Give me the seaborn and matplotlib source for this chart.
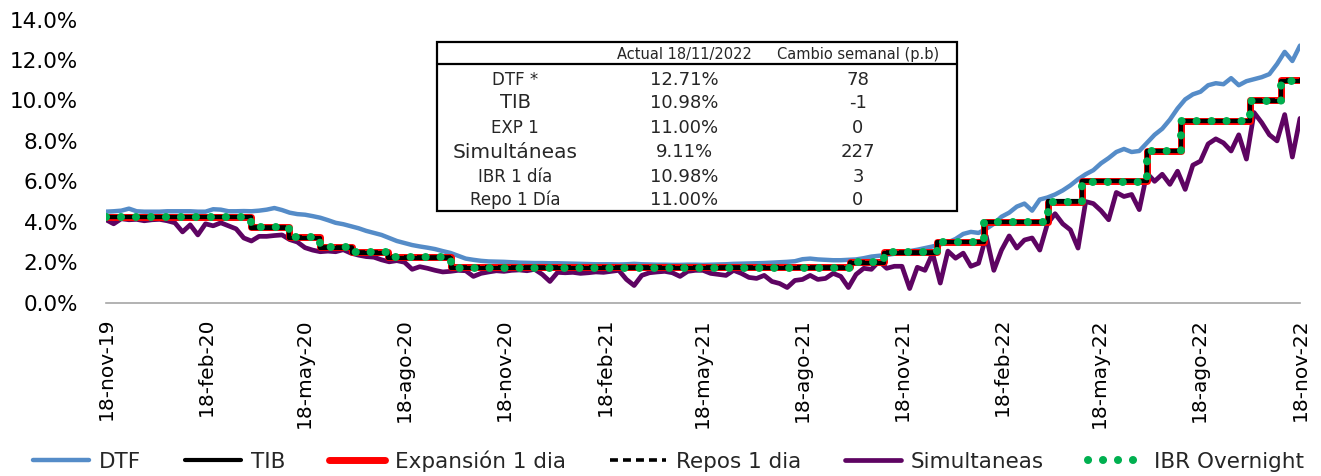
import numpy as np
import pandas as pd
import matplotlib
matplotlib.use("Agg")
import matplotlib.pyplot as plt
import seaborn as sns
from matplotlib.patches import Rectangle
from matplotlib.lines import Line2D

# ---------------- data ----------------
start_date = "2019-11-18"
end_date = "2022-11-18"

dtf_values = [
    4.50, 4.52, 4.55, 4.65, 4.52, 4.50, 4.50, 4.50, 4.52, 4.52, 4.52, 4.52, 4.50,
    4.50, 4.62, 4.60, 4.52, 4.52, 4.53, 4.52, 4.55, 4.60, 4.68, 4.58, 4.45, 4.38,
    4.35, 4.28, 4.20, 4.08, 3.95, 3.88, 3.78, 3.68, 3.55, 3.45, 3.35, 3.20, 3.05,
    2.95, 2.85, 2.78, 2.72, 2.65, 2.55, 2.46, 2.32, 2.18, 2.12, 2.07, 2.04, 2.03,
    2.02, 2.00, 1.98, 1.97, 1.96, 1.96, 1.95, 1.95, 1.94, 1.93, 1.92, 1.91, 1.90,
    1.90, 1.90, 1.89, 1.90, 1.92, 1.90, 1.89, 1.88, 1.88, 1.87, 1.87, 1.88, 1.88,
    1.87, 1.88, 1.89, 1.90, 1.92, 1.93, 1.94, 1.95, 1.96, 1.98, 2.00, 2.02, 2.05,
    2.15, 2.18, 2.14, 2.12, 2.10, 2.10, 2.12, 2.14, 2.20, 2.28, 2.32, 2.36, 2.42,
    2.48, 2.55, 2.62, 2.70, 2.78, 2.88, 2.98, 3.15, 3.40, 3.50, 3.45, 3.65, 3.90,
    4.25, 4.45, 4.75, 4.90, 4.55, 5.10, 5.20, 5.35, 5.55, 5.80, 6.10, 6.35, 6.55,
    6.89, 7.15, 7.45, 7.60, 7.45, 7.50, 7.90, 8.30, 8.60, 9.05, 9.60, 10.05, 10.30,
    10.43, 10.75, 10.85, 10.80, 11.10, 10.75, 10.95, 11.05, 11.15, 11.30, 11.80, 12.40, 11.95,
    12.71,
]

simultaneas_values = [
    4.10, 3.90, 4.15, 4.10, 4.12, 4.05, 4.10, 4.12, 4.05, 3.95, 3.50, 3.85, 3.35,
    3.90, 3.80, 3.95, 3.80, 3.65, 3.20, 3.05, 3.28, 3.28, 3.32, 3.35, 3.12, 3.00,
    2.72, 2.60, 2.52, 2.55, 2.52, 2.62, 2.45, 2.35, 2.28, 2.25, 2.12, 2.02, 2.08,
    2.00, 1.65, 1.78, 1.70, 1.60, 1.52, 1.55, 1.60, 1.58, 1.30, 1.45, 1.52, 1.58,
    1.55, 1.60, 1.62, 1.58, 1.65, 1.40, 1.05, 1.50, 1.48, 1.50, 1.45, 1.48, 1.52,
    1.50, 1.55, 1.60, 1.15, 0.85, 1.35, 1.48, 1.52, 1.55, 1.48, 1.30, 1.55, 1.60,
    1.60, 1.45, 1.40, 1.35, 1.60, 1.45, 1.25, 1.20, 1.35, 1.05, 0.95, 0.75, 1.10,
    1.15, 1.35, 1.15, 1.20, 1.45, 1.30, 0.75, 1.40, 1.70, 1.65, 2.05, 1.70, 1.80,
    1.80, 0.70, 1.75, 1.60, 2.44, 0.97, 2.55, 2.20, 2.45, 1.80, 1.95, 3.30, 1.60,
    2.60, 3.30, 2.70, 3.10, 3.20, 2.60, 3.90, 4.40, 3.90, 3.60, 2.70, 5.00, 4.90,
    4.55, 4.10, 5.45, 5.25, 5.35, 4.60, 6.40, 6.00, 6.35, 5.85, 6.50, 5.60, 6.80,
    7.00, 7.85, 8.10, 7.90, 7.50, 8.30, 7.10, 9.40, 8.90, 8.30, 8.00, 9.30, 7.20,
    9.11,
]

step_dates = ["2019-11-18", "2020-03-30", "2020-05-04", "2020-06-01", "2020-07-01",
              "2020-08-03", "2020-09-30", "2021-10-01", "2021-11-01", "2021-12-20",
              "2022-02-01", "2022-04-01", "2022-05-02", "2022-07-01", "2022-08-01",
              "2022-10-03", "2022-11-01", "2022-11-18"]
expansion_values = [4.25, 3.75, 3.25, 2.75, 2.50, 2.25, 1.75, 2.00, 2.50, 3.00,
                    4.00, 5.00, 6.00, 7.50, 9.00, 10.00, 11.00, 11.00]
repos_values = [4.25, 3.75, 3.25, 2.75, 2.50, 2.25, 1.75, 2.00, 2.50, 3.00,
                4.00, 5.00, 6.00, 7.50, 9.00, 10.00, 11.00, 11.00]
tib_values = [4.23, 3.68, 3.22, 2.72, 2.47, 2.22, 1.73, 1.98, 2.48, 2.98,
              3.98, 5.02, 6.04, 7.48, 8.98, 9.98, 10.98, 10.98]
ibr_values = [4.24, 3.74, 3.24, 2.74, 2.49, 2.24, 1.74, 1.99, 2.49, 2.99,
              3.99, 4.99, 5.99, 7.49, 8.99, 9.99, 10.98, 10.98]

tick_dates = ["2019-11-18", "2020-02-18", "2020-05-18", "2020-08-18", "2020-11-18",
              "2021-02-18", "2021-05-18", "2021-08-18", "2021-11-18", "2022-02-18",
              "2022-05-18", "2022-08-18", "2022-11-18"]
tick_labels = ["18-nov-19", "18-feb-20", "18-may-20", "18-ago-20", "18-nov-20",
               "18-feb-21", "18-may-21", "18-ago-21", "18-nov-21", "18-feb-22",
               "18-may-22", "18-ago-22", "18-nov-22"]
y_ticks = [0, 2, 4, 6, 8, 10, 12, 14]

table_header = ["Actual 18/11/2022", "Cambio semanal (p.b)"]
table_labels = ["DTF *", "TIB", "EXP 1", "Simultáneas", "IBR 1 día", "Repo 1 Día"]
table_actual = ["12.71%", "10.98%", "11.00%", "9.11%", "10.98%", "11.00%"]
table_change = ["78", "-1", "0", "227", "3", "0"]

# ---------------- frames ----------------
daily = pd.DataFrame({
    "fecha": pd.date_range(start_date, end_date, periods=len(dtf_values)),
    "DTF": dtf_values,
    "Simultaneas": simultaneas_values,
})
steps = pd.DataFrame({
    "fecha": pd.to_datetime(step_dates),
    "TIB": tib_values,
    "Expansion": expansion_values,
    "Repos": repos_values,
    "IBR": ibr_values,
})

# ---------------- figure ----------------
sns.set_theme(style="white")
plt.rcParams["font.family"] = ["DejaVu Sans"]

W, H = 1321, 476
fig = plt.figure(figsize=(W / 100, H / 100), dpi=100)
ax = fig.add_axes([106 / W, (H - 302.7) / H, 1194 / W, (302.7 - 19.5) / H])

c_dtf = "#558CC8"
c_sim = "#5E0462"
c_red = "#FF0000"
c_green = "#00B050"

sns.lineplot(data=daily, x="fecha", y="DTF", ax=ax, color=c_dtf, lw=3.2,
             label="DTF", zorder=2)
sns.lineplot(data=steps, x="fecha", y="TIB", ax=ax, color="black", lw=3.0,
             label="TIB", drawstyle="steps-post", zorder=5)
sns.lineplot(data=steps, x="fecha", y="Expansion", ax=ax, color=c_red, lw=5.0,
             label="Expansión 1 dia", drawstyle="steps-post", zorder=4)
sns.lineplot(data=steps, x="fecha", y="Repos", ax=ax, color="black", lw=2.6,
             label="Repos 1 dia", drawstyle="steps-post", zorder=6,
             linestyle=(0, (2.2, 1.4)))
sns.lineplot(data=daily, x="fecha", y="Simultaneas", ax=ax, color=c_sim, lw=3.4,
             label="Simultaneas", zorder=3)
sns.lineplot(data=steps, x="fecha", y="IBR", ax=ax, color=c_green, lw=5.8,
             label="IBR Overnight", drawstyle="steps-post", zorder=7,
             linestyle=(0, (0.01, 1.85)), dash_capstyle="round")

ax.set_xlim(pd.Timestamp(start_date), pd.Timestamp(end_date))
ax.set_ylim(0, 14)
ax.set_yticks(y_ticks)
ax.set_yticklabels([f"{v:.1f}%" for v in y_ticks])
ax.set_xticks(pd.to_datetime(tick_dates))
ax.set_xticklabels(tick_labels, rotation=90)
ax.set_xlabel("")
ax.set_ylabel("")
ax.grid(False)
for s in ["top", "right", "left"]:
    ax.spines[s].set_visible(False)
ax.spines["bottom"].set_color("#A6A6A6")
ax.spines["bottom"].set_linewidth(1.2)
ax.tick_params(axis="y", length=0, pad=20, labelsize=15.5, labelcolor="black")
ax.tick_params(axis="x", length=0, pad=11, labelsize=14.5, labelcolor="black")

handles, labels = ax.get_legend_handles_labels()
if ax.get_legend() is not None:
    ax.get_legend().remove()
leg = fig.legend(handles, labels, loc="center", bbox_to_anchor=(0.506, 0.032), ncol=6,
                 frameon=False, fontsize=15.5, handlelength=2.6, handletextpad=0.45,
                 columnspacing=2.05)

# ---------------- table ----------------
def fx(x):
    return x / W


def fy(y):
    return 1 - y / H

box_l, box_r, box_t, box_b = 437, 957, 42, 211
fig.add_artist(Rectangle((fx(box_l), fy(box_b)), fx(box_r - box_l), (box_b - box_t) / H,
                         transform=fig.transFigure, facecolor="white",
                         edgecolor="black", lw=1.6, zorder=10))
fig.add_artist(Line2D([fx(box_l), fx(box_r)], [fy(64), fy(64)],
                      transform=fig.transFigure, color="black", lw=1.6, zorder=11))

col_x = [515, 684, 858]
header_y = 54
fig.text(fx(col_x[1]), fy(header_y), table_header[0], ha="center", va="center",
         fontsize=10.5, zorder=12)
fig.text(fx(col_x[2]), fy(header_y), table_header[1], ha="center", va="center",
         fontsize=10.5, zorder=12)
row_y = [80, 103, 128, 152, 177, 200]
label_sizes = [12, 14, 12, 14.5, 12, 12]
for lab, act, chg, yy, fs in zip(table_labels, table_actual, table_change, row_y, label_sizes):
    fig.text(fx(col_x[0]), fy(yy), lab, ha="center", va="center", fontsize=fs, zorder=12)
    fig.text(fx(col_x[1]), fy(yy), act, ha="center", va="center", fontsize=13, zorder=12)
    fig.text(fx(col_x[2]), fy(yy), chg, ha="center", va="center", fontsize=13, zorder=12)

fig.savefig("out.png", dpi=100)
